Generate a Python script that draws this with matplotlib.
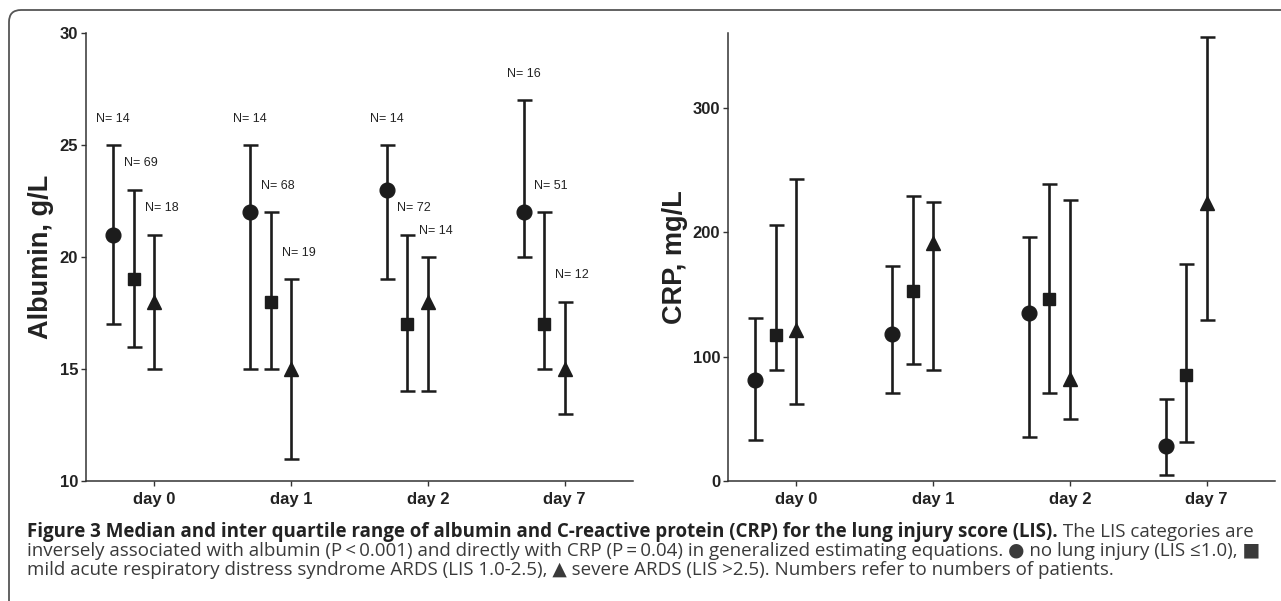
import numpy as np
import matplotlib.pyplot as plt
from matplotlib.patches import FancyBboxPatch
from matplotlib.transforms import IdentityTransform

# ---- data (median, lower quartile, upper quartile) ----
days = ['day 0', 'day 1', 'day 2', 'day 7']

alb_none_med = [21, 22, 23, 22]
alb_none_lo = [17, 15, 19, 20]
alb_none_hi = [25, 25, 25, 27]
alb_mild_med = [19, 18, 17, 17]
alb_mild_lo = [16, 15, 14, 15]
alb_mild_hi = [23, 22, 21, 22]
alb_sev_med = [18, 15, 18, 15]
alb_sev_lo = [15, 11, 14, 13]
alb_sev_hi = [21, 19, 20, 18]

n_none = [14, 14, 14, 16]
n_mild = [69, 68, 72, 51]
n_sev = [18, 19, 14, 12]

crp_none_med = [81, 118, 135, 28]
crp_none_lo = [33, 71, 35, 5]
crp_none_hi = [131, 173, 196, 66]
crp_mild_med = [117, 153, 146, 85]
crp_mild_lo = [89, 94, 71, 31]
crp_mild_hi = [206, 229, 239, 174]
crp_sev_med = [121, 191, 82, 223]
crp_sev_lo = [62, 89, 50, 129]
crp_sev_hi = [243, 224, 226, 357]

W, H = 1281, 601
INK = '#1c1c1c'
AXC = '#333333'
TICKFONT = ['Liberation Sans', 'DejaVu Sans']

fig = plt.figure(figsize=(W / 100, H / 100), dpi=100)
fig.patch.set_facecolor('white')

# rounded frame (only top/left visible)
frame = FancyBboxPatch((9, -60), 1400, 591 + 60, boxstyle='round,pad=0,rounding_size=12',
                       transform=IdentityTransform(), fill=False, edgecolor='#555555', linewidth=1.3)
fig.add_artist(frame)

ax1 = fig.add_axes([86 / W, 120 / H, 547 / W, 448 / H])
ax2 = fig.add_axes([728 / W, 120 / H, 547 / W, 448 / H])

x = np.arange(len(days))
offs = [-0.30, -0.15, 0.0]
markers = [('o', 10.6), ('s', 8.2), ('^', 10.3)]


def draw_group(ax, meds, los, his):
    for k, (m, lo, hi) in enumerate(zip(meds, los, his)):
        m = np.array(m, dtype=float)
        yerr = [m - np.array(lo), np.array(hi) - m]
        mk, ms = markers[k]
        ax.errorbar(x + offs[k], m, yerr=yerr, fmt=mk, ms=ms, color=INK, ecolor=INK,
                    elinewidth=1.9, capsize=5.4, capthick=1.8, zorder=3)


def style_axis(ax, ylim, yticks, label, lx):
    ax.set_xlim(-0.5, 3.5)
    ax.set_ylim(*ylim)
    ax.set_yticks(yticks)
    ax.set_xticks(x)
    ax.set_xticklabels(days)
    for s in ['top', 'right']:
        ax.spines[s].set_visible(False)
    for s in ['left', 'bottom']:
        ax.spines[s].set_linewidth(1.1)
        ax.spines[s].set_color(AXC)
    ax.tick_params(axis='both', width=1.0, length=3.6, color=AXC, pad=2)
    for t in ax.get_xticklabels() + ax.get_yticklabels():
        t.set_fontfamily(TICKFONT)
        t.set_fontweight('bold')
        t.set_fontsize(12)
        t.set_color('#222222')
    ax.tick_params(axis='x', pad=4)
    ax.set_ylabel(label, fontsize=19.5, fontweight='bold', family=TICKFONT, color='#222222',
                  va='center')
    ax.yaxis.set_label_coords(lx, 0.5)


draw_group(ax1, [alb_none_med, alb_mild_med, alb_sev_med],
           [alb_none_lo, alb_mild_lo, alb_sev_lo],
           [alb_none_hi, alb_mild_hi, alb_sev_hi])
draw_group(ax2, [crp_none_med, crp_mild_med, crp_sev_med],
           [crp_none_lo, crp_mild_lo, crp_sev_lo],
           [crp_none_hi, crp_mild_hi, crp_sev_hi])

# N labels above the upper whiskers of the albumin panel
label_dx = [0, 5, 5.5]
for k, (ns, his) in enumerate(zip([n_none, n_mild, n_sev], [alb_none_hi, alb_mild_hi, alb_sev_hi])):
    for i in range(len(days)):
        ax1.annotate(f'N= {ns[i]}', xy=(x[i] + offs[k], his[i]), xytext=(label_dx[k], 19),
                     textcoords='offset points', ha='center', va='center',
                     fontsize=9, family=TICKFONT, color='#222222')

style_axis(ax1, (10, 30), [10, 15, 20, 25, 30], 'Albumin, g/L', -0.082)
style_axis(ax2, (0, 360), [0, 100, 200, 300], 'CRP, mg/L', -0.097)

# ---- caption ----
CAPFONT = ['Open Sans', 'DejaVu Sans']
cap_bold = 'Figure 3 Median and inter quartile range of albumin and C-reactive protein (CRP) for the lung injury score (LIS).'
cap_l1 = ' The LIS categories are'
cap_l2 = ('inversely associated with albumin (P\u2009<\u20090.001) and directly with CRP (P\u2009=\u20090.04) '
          'in generalized estimating equations. \u25cf no lung injury (LIS \u22641.0), \u25a0')
cap_l3 = 'mild acute respiratory distress syndrome ARDS (LIS 1.0-2.5), \u25b2 severe ARDS (LIS >2.5). Numbers refer to numbers of patients.'

fig.canvas.draw()
renderer = fig.canvas.get_renderer()
x0 = 27
t_b = fig.text(x0 / W, 69 / H, cap_bold, fontsize=10, fontweight='bold', family=CAPFONT,
               va='center', ha='left', color='#222222')
t_r = fig.text(0, 69 / H, cap_l1, fontsize=10, family=CAPFONT, va='center', ha='left', color='#3a3a3a')
wb = t_b.get_window_extent(renderer).width
wr = t_r.get_window_extent(renderer).width
scale = (1256 - x0) / (wb + wr)
fs = 10 * scale
t_b.set_fontsize(fs)
t_r.set_fontsize(fs)
wb = t_b.get_window_extent(renderer).width
t_r.set_x((x0 + wb) / W)
fig.text(x0 / W, 50 / H, cap_l2, fontsize=fs, family=CAPFONT, va='center', ha='left', color='#3a3a3a')
fig.text(x0 / W, 31 / H, cap_l3, fontsize=fs, family=CAPFONT, va='center', ha='left', color='#3a3a3a')

fig.savefig('out.png', dpi=100)
